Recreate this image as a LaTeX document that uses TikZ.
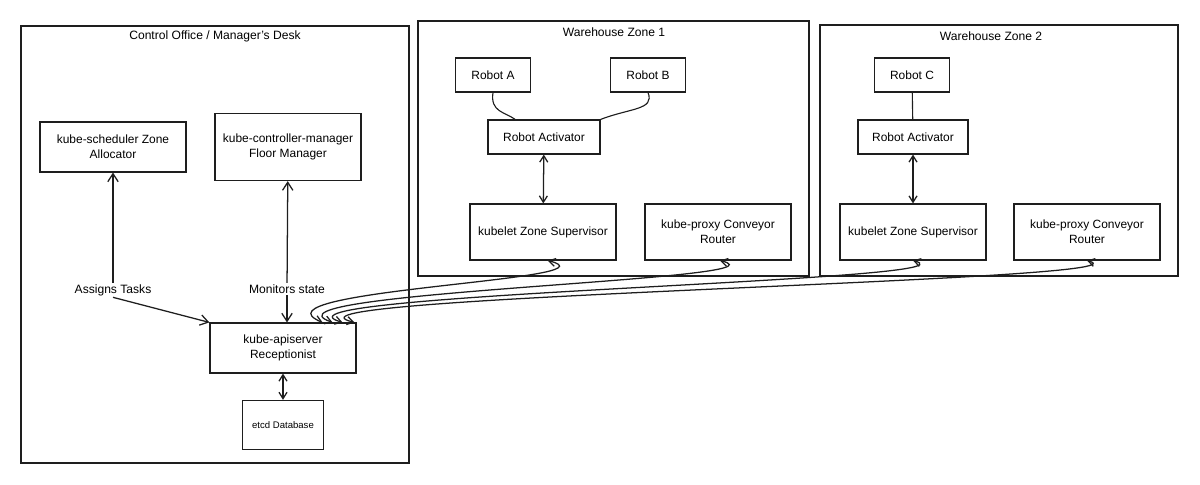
\documentclass[tikz,border=0pt]{standalone}
\usepackage{fontspec}
\setmainfont{Liberation Sans}
\usetikzlibrary{arrows.meta, positioning, fit}
\definecolor{inkgrey}{RGB}{30, 30, 30}
\tikzset{
  box/.style      = {rectangle, draw=inkgrey, line width=0.8pt, minimum width=3.65cm, minimum height=1.25cm, align=center, font=\fontsize{8.5}{10.5}\selectfont, inner sep=2pt},
  smallbox/.style = {rectangle, draw=inkgrey, line width=0.8pt, minimum height=0.85cm, align=center, font=\fontsize{8.5}{10.5}\selectfont},
  zone/.style     = {rectangle, draw=inkgrey, line width=0.8pt, inner sep=0pt},
  ztitle/.style   = {font=\fontsize{8.6}{10.5}\selectfont},
  elabel/.style   = {font=\fontsize{8.6}{10.5}\selectfont, inner sep=1pt},
  flow/.style     = {line width=0.9pt, inkgrey, -{Straight Barb[length=2mm, width=2.6mm]}},
  flowboth/.style = {line width=0.9pt, inkgrey, {Straight Barb[length=1.6mm, width=2mm]}-{Straight Barb[length=1.6mm, width=2mm]}},
  link/.style     = {line width=0.8pt, inkgrey},
}

\begin{document}
\begin{tikzpicture}[x=0.025cm, y=-0.025cm]

\useasboundingbox (0,0) rectangle (1200,485);

% Control Office
\node[zone, fit={(21,26) (409,463)}] (office) {};
\node[ztitle] (office_title) at (215,36) {Control Office / Manager's Desk};

\node[box] (sched) at (113,147) {kube-scheduler Zone\\Allocator};
\node[box, minimum height=1.68cm] (ctrlmgr) at (288,147) {kube-controller-manager\\Floor Manager};
\node[box] (apiserver) at (283,348) {kube-apiserver\\Receptionist};
\node[box, minimum width=2.03cm, minimum height=1.23cm, font=\fontsize{6.8}{8}\selectfont] (etcd) at (283,425) {etcd Database};

\node[elabel] (assign) at (113,290) {Assigns Tasks};
\node[elabel] (monitor) at (287,289) {Monitors state};

% Warehouse Zone 1
\node[zone, fit={(418,21) (809,276)}] (zone1) {};
\node[ztitle] (zone1_title) at (614,32) {Warehouse Zone 1};

\node[smallbox, minimum width=1.88cm] (robota) at (493,75) {Robot A};
\node[smallbox, minimum width=1.88cm] (robotb) at (648,75) {Robot B};
\node[smallbox, minimum width=2.8cm] (acta) at (544,137) {Robot Activator};
\node[box, minimum height=1.4cm] (kubeleta) at (543,232) {kubelet Zone Supervisor};
\node[box, minimum height=1.4cm] (proxya) at (718,232) {kube-proxy Conveyor\\Router};

% Warehouse Zone 2
\node[zone, fit={(820,25) (1178,276)}] (zone2) {};
\node[ztitle] (zone2_title) at (991,36) {Warehouse Zone 2};

\node[smallbox, minimum width=1.88cm] (robotc) at (912,75) {Robot C};
\node[smallbox, minimum width=2.75cm] (actb) at (913,137) {Robot Activator};
\node[box, minimum height=1.4cm] (kubeletb) at (913,232) {kubelet Zone Supervisor};
\node[box, minimum height=1.4cm] (proxyb) at (1087,232) {kube-proxy Conveyor\\Router};

% robots -> activators
\draw[link] (robota.south) .. controls (490,112) and (505,112) .. ([xshift=-0.72cm]acta.north);
\draw[link] (robotb.south) .. controls (655,110) and (630,108) .. (acta.north east);
\draw[link] (robotc) -- (actb);

% activators <-> kubelets
\draw[flowboth] (acta) -- (kubeleta);
\draw[flowboth] (actb) -- (kubeletb);

% control office
\draw[flow] (assign) -- (sched);
\draw[flow] (assign.south) -- (apiserver.north west);
\draw[flow] (monitor) -- (ctrlmgr);
\draw[flow] (monitor) -- (apiserver.north -| monitor);
\draw[flowboth] (apiserver) -- (etcd);

% zone nodes <-> apiserver
\draw[flowboth] ([xshift=0.12cm]kubeleta.south) .. controls (625,280) and (245,290) .. ([xshift=-0.85cm]apiserver.north east);
\draw[flowboth] ([xshift=0.05cm]proxya.south) .. controls (800,280) and (245,292) .. ([xshift=-0.6cm]apiserver.north east);
\draw[flowboth] (kubeletb.south) .. controls (990,281) and (245,294) .. ([xshift=-0.35cm]apiserver.north east);
\draw[flowboth] (proxyb.south) .. controls (1165,281) and (245,296) .. ([xshift=-0.05cm]apiserver.north east);

\end{tikzpicture}
\end{document}
